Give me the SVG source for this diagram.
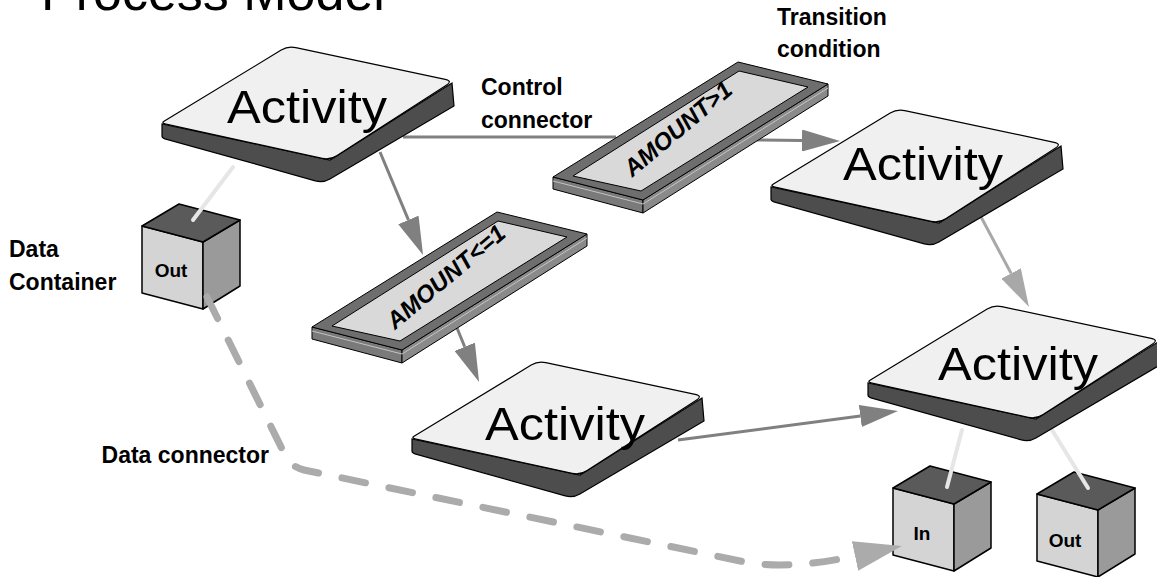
<svg xmlns="http://www.w3.org/2000/svg" width="1157" height="577" viewBox="0 0 1157 577">
<style>
.lbl{font-family:"Liberation Sans",Arial,sans-serif;font-weight:bold;font-size:23px;fill:#000}
.title{font-family:"Liberation Sans",Arial,sans-serif;font-size:52px;fill:#000}
.act{font-family:"Liberation Sans",Arial,sans-serif;font-size:46px;fill:#000}
.cond{font-family:"Liberation Sans",Arial,sans-serif;font-weight:bold;font-style:italic;font-size:24px;fill:#000}
.cubet{font-family:"Liberation Sans",Arial,sans-serif;font-weight:bold;font-size:19px;fill:#000}
.ctl{stroke:#808080;stroke-width:3;fill:none}
.ctl2{stroke:#a8a8a8;stroke-width:3;fill:none}
.data{stroke:#e6e6e6;stroke-width:4;stroke-linecap:round;fill:none}
.dash{stroke:#ababab;stroke-width:7;stroke-dasharray:24 24;stroke-linecap:round;fill:none}
.top{fill:#f0f0f0;stroke:#000;stroke-width:1.2}
.side{fill:#4d4d4d;stroke:#000;stroke-width:1.2}
.frame{fill:#6e6e6e;stroke:#000;stroke-width:1}
.inner{fill:#d9d9d9;stroke:#000;stroke-width:1}
.sideL{fill:#7a7a7a;stroke:#000;stroke-width:1}
.sideR{fill:#8a8a8a;stroke:#000;stroke-width:1}
.stripe{fill:none;stroke:#c4c4c4;stroke-width:1}
.ctop{fill:#5a5a5a;stroke:#000;stroke-width:1.5;stroke-linejoin:round}
.cfront{fill:#d4d4d4;stroke:#000;stroke-width:1.5;stroke-linejoin:round}
.cright{fill:#9a9a9a;stroke:#000;stroke-width:1.5;stroke-linejoin:round}
</style>
<defs>
<marker id="ah" markerUnits="userSpaceOnUse" markerWidth="40" markerHeight="22" refX="0" refY="11" orient="auto"><path d="M0,0 L38,11 L0,22 Z" fill="#808080"/></marker>
<marker id="ahl" markerUnits="userSpaceOnUse" markerWidth="40" markerHeight="22" refX="0" refY="11" orient="auto"><path d="M0,0 L38,11 L0,22 Z" fill="#a8a8a8"/></marker>
<marker id="ahd" markerUnits="userSpaceOnUse" markerWidth="50" markerHeight="30" refX="0" refY="15" orient="auto"><path d="M0,0 L48,15 L0,30 Z" fill="#ababab"/></marker>
<g id="actShape">
<path class="side" d="M1,1 L1,13 Q1,15 3.9,15.8 L154.3,57.8 Q162,60 168.9,55.9 L293,-17 L291,-40 L169,37 Z"/>
<path class="top" d="M3.4,-2 L120.2,-72.9 Q127,-77 134.8,-75.3 L284.2,-43.7 Q292,-42 285.3,-37.7 L175.7,32.7 Q169,37 161.2,35.3 L3.9,0.9 Q0,0 3.4,-2 Z"/>
</g>
<g id="condShape">
<path class="sideL" d="M0,0 L90,23 L90,36 L0,12 Z"/>
<path class="sideR" d="M90,23 L275,-93 L275,-81 L90,36 Z"/>
<path class="stripe" d="M0,4 L90,27 L275,-89"/>
<path class="frame" d="M0,0 L185,-115 L275,-93 L90,23 Z"/>
<path class="inner" d="M20,-1 L186,-106 L255,-90 L88,14 Z"/>
</g>
<g id="cubeShape">
<path class="cfront" d="M0,0 L61,16 L61,83 L0,67 Z"/>
<path class="cright" d="M61,16 L98,-6 L98,60 L61,83 Z"/>
<path class="ctop" d="M0,0 L37,-22 L98,-6 L61,16 Z"/>
</g>
</defs>

<rect width="1157" height="577" fill="#fff"/>

<text class="title" x="41" y="10">Process Model</text>

<g id="labels">
<text class="lbl" x="777" y="25">Transition</text>
<text class="lbl" x="777" y="57">condition</text>
<text class="lbl" x="481" y="95">Control</text>
<text class="lbl" x="481" y="128">connector</text>
<text class="lbl" x="9" y="257">Data</text>
<text class="lbl" x="9" y="290">Container</text>
<text class="lbl" x="269" y="463" text-anchor="end">Data connector</text>
</g>

<g id="container-out-left">
<use href="#cubeShape" transform="translate(142,226)"/>
<text class="cubet" x="171" y="277" text-anchor="middle">Out</text>
</g>
<g id="container-in">
<use href="#cubeShape" transform="translate(893,488)"/>
<text class="cubet" x="922" y="540" text-anchor="middle">In</text>
</g>
<g id="container-out-right">
<use href="#cubeShape" transform="translate(1037,494)"/>
<text class="cubet" x="1065" y="547" text-anchor="middle">Out</text>
</g>

<g id="connectors">
<line class="ctl" x1="403" y1="137" x2="616" y2="137"/>
<line class="ctl" x1="757" y1="140" x2="802" y2="140.5" marker-end="url(#ah)"/>
<line class="ctl" x1="380" y1="152" x2="408.4" y2="219.9" marker-end="url(#ah)"/>
<line class="ctl" x1="457" y1="328" x2="464.7" y2="346.8" marker-end="url(#ah)"/>
<line class="ctl2" x1="980" y1="215" x2="1011.1" y2="273.4" marker-end="url(#ahl)"/>
<line class="ctl" x1="678" y1="440" x2="860.3" y2="416" marker-end="url(#ah)"/>
<line class="data" x1="233" y1="167" x2="193" y2="220"/>
<line class="data" x1="962" y1="430" x2="947" y2="487"/>
<line class="data" x1="1052" y1="430" x2="1088" y2="488"/>
<path class="dash" d="M207,297 L285,455 Q291,467 304,470 L745,562 Q790,570 855,556" marker-end="url(#ahd)"/>
</g>

<g id="activity-1">
<use href="#actShape" transform="translate(161,123)"/>
<text class="act" x="227" y="123" textLength="160" lengthAdjust="spacingAndGlyphs">Activity</text>
</g>
<g id="activity-2">
<use href="#actShape" transform="translate(770,186)"/>
<text class="act" x="843" y="180" textLength="160" lengthAdjust="spacingAndGlyphs">Activity</text>
</g>
<g id="activity-3">
<use href="#actShape" transform="translate(411,438)"/>
<text class="act" x="485" y="440" textLength="160" lengthAdjust="spacingAndGlyphs">Activity</text>
</g>
<g id="activity-4">
<use href="#actShape" transform="translate(867,382)"/>
<text class="act" x="938" y="380" textLength="160" lengthAdjust="spacingAndGlyphs">Activity</text>
</g>

<g id="condition-le1">
<use href="#condShape" transform="translate(312,327)"/>
<text class="cond" transform="translate(446,277) rotate(-40)" x="0" y="8" text-anchor="middle">AMOUNT&lt;=1</text>
</g>
<g id="condition-gt1">
<use href="#condShape" transform="translate(553,177)"/>
<text class="cond" transform="translate(678,129) rotate(-40)" x="0" y="8" text-anchor="middle">AMOUNT&gt;1</text>
</g>
</svg>
